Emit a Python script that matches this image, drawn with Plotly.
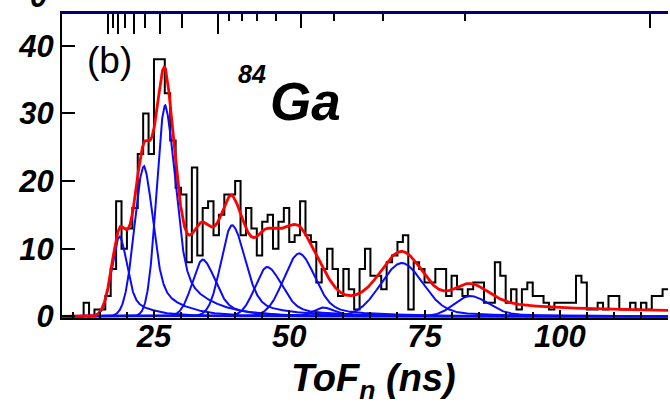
import numpy as np
import plotly.graph_objects as go

# ---------------- data ----------------
# histogram: 1-ns bins, left edges 8..119 ns
bin_left = list(range(8, 120))
counts = [0, 0, 0, 0, 2, 0, 1, 1, 3, 7,          # 8-17
          17, 10, 13, 16, 24, 30, 24, 38, 38, 33,  # 18-27
          26, 19, 18, 8, 22, 9, 16, 17, 12, 15,    # 28-37
          18, 18, 20, 12, 16, 13, 9, 14, 15, 10,   # 38-47
          14, 16, 11, 12, 17, 12, 11, 5, 7, 10,    # 48-57
          7, 3, 7, 4, 1, 7, 10, 6, 6, 4,           # 58-67
          8, 9, 11, 12, 1, 8, 7, 5, 5, 7,          # 68-77
          7, 3, 6, 4, 3, 4, 5, 5, 2, 2,            # 78-87
          8, 6, 2, 4, 1, 4, 5, 3, 3, 2,            # 88-97
          1, 2, 2, 2, 2, 6, 5, 1, 1, 2,            # 98-107
          1, 3, 3, 1, 1, 2, 1, 2, 1, 3,            # 108-117
          3, 4]                                    # 118-119

# fitted peak components (blue) : centre (ns), height (counts), widths (ns)
peak_center = [18.7, 23.2, 27.1, 34.1, 39.5, 46.0, 51.9, 56.3, 70.9, 83.5]
peak_height = [11.8, 22.2, 31.2, 8.4, 13.5, 7.3, 9.3, 1.3, 7.9, 3.0]
peak_sig_left = [1.5, 1.8, 1.6, 2.0, 2.1, 2.3, 2.9, 1.8, 4.0, 3.0]
peak_sig_right = [1.3, 1.6, 1.8, 2.2, 2.3, 2.6, 2.8, 2.0, 3.8, 3.3]
peak_tail_frac = [0.35, 0.35, 0.35, 0.30, 0.25, 0.25, 0.20, 0.20, 0.15, 0.15]
peak_tail_len = [4.0, 4.6, 5.4, 6.0, 7.0, 8.0, 9.0, 9.0, 10.0, 12.0]

# background under the total fit (red), read at a few times
bg_t = [8, 14, 17, 20, 25, 30, 40, 45, 50, 55, 60, 65, 70, 80, 90, 100, 110, 120]
bg_val = [0, 0, 0.3, 0.6, 0.8, 1.0, 1.6, 2.4, 2.0, 1.6, 1.3, 1.2, 1.3, 1.4, 1.4, 1.1, 0.95, 0.85]

# top axis: neutron energy ticks (MeV), t = A / sqrt(E)
top_A = 36.87
top_long_E = [1, 2, 3, 4, 5]
top_mid_E = [0.1, 0.5, 1.5, 2.5, 3.5, 4.5]
top_short_E = [0.2, 0.3, 0.4, 0.6, 0.7, 0.8, 0.9]

x_ticks = [25, 50, 75, 100]
y_ticks = [0, 10, 20, 30, 40]

# ---------------- build curves ----------------
t = np.linspace(8, 120, 2241)


def response(t, c, h, sl, sr, f, tau):
    d = t - c
    left = h * np.exp(-d ** 2 / (2 * sl ** 2))
    right = h * ((1 - f) * np.exp(-d ** 2 / (2 * sr ** 2)) + f * np.exp(-np.clip(d, 0, None) / tau))
    return np.where(d < 0, left, right)


comps = [response(t, *p) for p in zip(peak_center, peak_height, peak_sig_left,
                                       peak_sig_right, peak_tail_frac, peak_tail_len)]
total = np.sum(comps, axis=0) + np.interp(t, bg_t, bg_val)

FONT = "Liberation Sans"
fig = go.Figure()

hx = bin_left + [bin_left[-1] + 1]
hy = counts + [counts[-1]]
fig.add_trace(go.Scatter(x=hx, y=hy, mode="lines", line=dict(color="black", width=2, shape="hv"),
                         showlegend=False, hoverinfo="skip"))
for c in comps:
    fig.add_trace(go.Scatter(x=t, y=c, mode="lines", line=dict(color="#0a0aff", width=2),
                             showlegend=False, hoverinfo="skip"))
fig.add_trace(go.Scatter(x=t, y=total, mode="lines", line=dict(color="#ff0000", width=2.8),
                         showlegend=False, hoverinfo="skip"))

tickfont = dict(family=FONT, size=31, color="black", weight="bold", style="italic")

fig.update_layout(
    width=670, height=407,
    margin=dict(l=62, r=2, t=14, b=89),
    paper_bgcolor="white", plot_bgcolor="white",
    xaxis=dict(range=[8, 120], showgrid=False, zeroline=False, showline=True,
               linecolor="black", linewidth=2, ticks="inside", tickvals=x_ticks,
               ticklen=8, tickwidth=1.5, tickcolor="black", tickfont=tickfont,
               ticklabelstandoff=-10,
               minor=dict(dtick=5, tick0=0, ticks="inside", ticklen=6, tickwidth=1.5,
                          tickcolor="black", showgrid=False)),
    yaxis=dict(range=[-0.25, 44.7], showgrid=False, zeroline=False, showline=True,
               linecolor="black", linewidth=2, ticks="inside", tickvals=y_ticks,
               ticklen=13, tickwidth=1.5, tickcolor="black", tickfont=tickfont),
    xaxis2=dict(range=[8, 120], overlaying="x", side="top", anchor="y", showgrid=False,
                zeroline=False, showline=True, linecolor="#000070", linewidth=2.5,
                ticks="inside", tickvals=[top_A / np.sqrt(e) for e in top_long_E],
                ticklen=20, tickwidth=1.5, tickcolor="black", showticklabels=False,
                minor=dict(tickvals=[top_A / np.sqrt(e) for e in top_short_E],
                           ticks="inside", ticklen=7, tickwidth=1.5, tickcolor="black")),
    xaxis3=dict(range=[8, 120], overlaying="x", side="top", anchor="y", showgrid=False,
                zeroline=False, showline=False, ticks="inside",
                tickvals=[top_A / np.sqrt(e) for e in top_mid_E],
                ticklen=14, tickwidth=1.5, tickcolor="black", showticklabels=False),
)
# invisible traces so the top axes are drawn
fig.add_trace(go.Scatter(x=[8], y=[-1], xaxis="x2", mode="lines", showlegend=False, hoverinfo="skip"))
fig.add_trace(go.Scatter(x=[8], y=[-1], xaxis="x3", mode="lines", showlegend=False, hoverinfo="skip"))

fig.add_annotation(text="ToF<sub>n</sub> (ns)", xref="paper", yref="paper", x=0.514, y=-0.207,
                   xanchor="center", yanchor="middle", showarrow=False,
                   font=dict(family=FONT, size=38, color="black", weight="bold", style="italic"))
fig.add_annotation(text="(b)", xref="paper", yref="paper", x=0.078, y=0.846,
                   xanchor="center", yanchor="middle", showarrow=False,
                   font=dict(family=FONT, size=37, color="black"))
fig.add_annotation(text="84", xref="paper", yref="paper", x=(252 - 62) / 606, y=1 - (74 - 14) / 303,
                   xanchor="center", yanchor="middle", showarrow=False,
                   font=dict(family=FONT, size=25, color="black", weight="bold", style="italic"))
fig.add_annotation(text="Ga", xref="paper", yref="paper", x=(305 - 62) / 606, y=1 - (101 - 14) / 303,
                   xanchor="center", yanchor="middle", showarrow=False,
                   font=dict(family=FONT, size=53, color="black", weight="bold", style="italic"))
fig.add_annotation(text="0", xref="paper", yref="paper", x=(38 - 62) / 606, y=1 + 17 / 303,
                   xanchor="center", yanchor="middle", showarrow=False,
                   font=dict(family=FONT, size=31, color="black", weight="bold", style="italic"))

fig.write_html("out.html")
